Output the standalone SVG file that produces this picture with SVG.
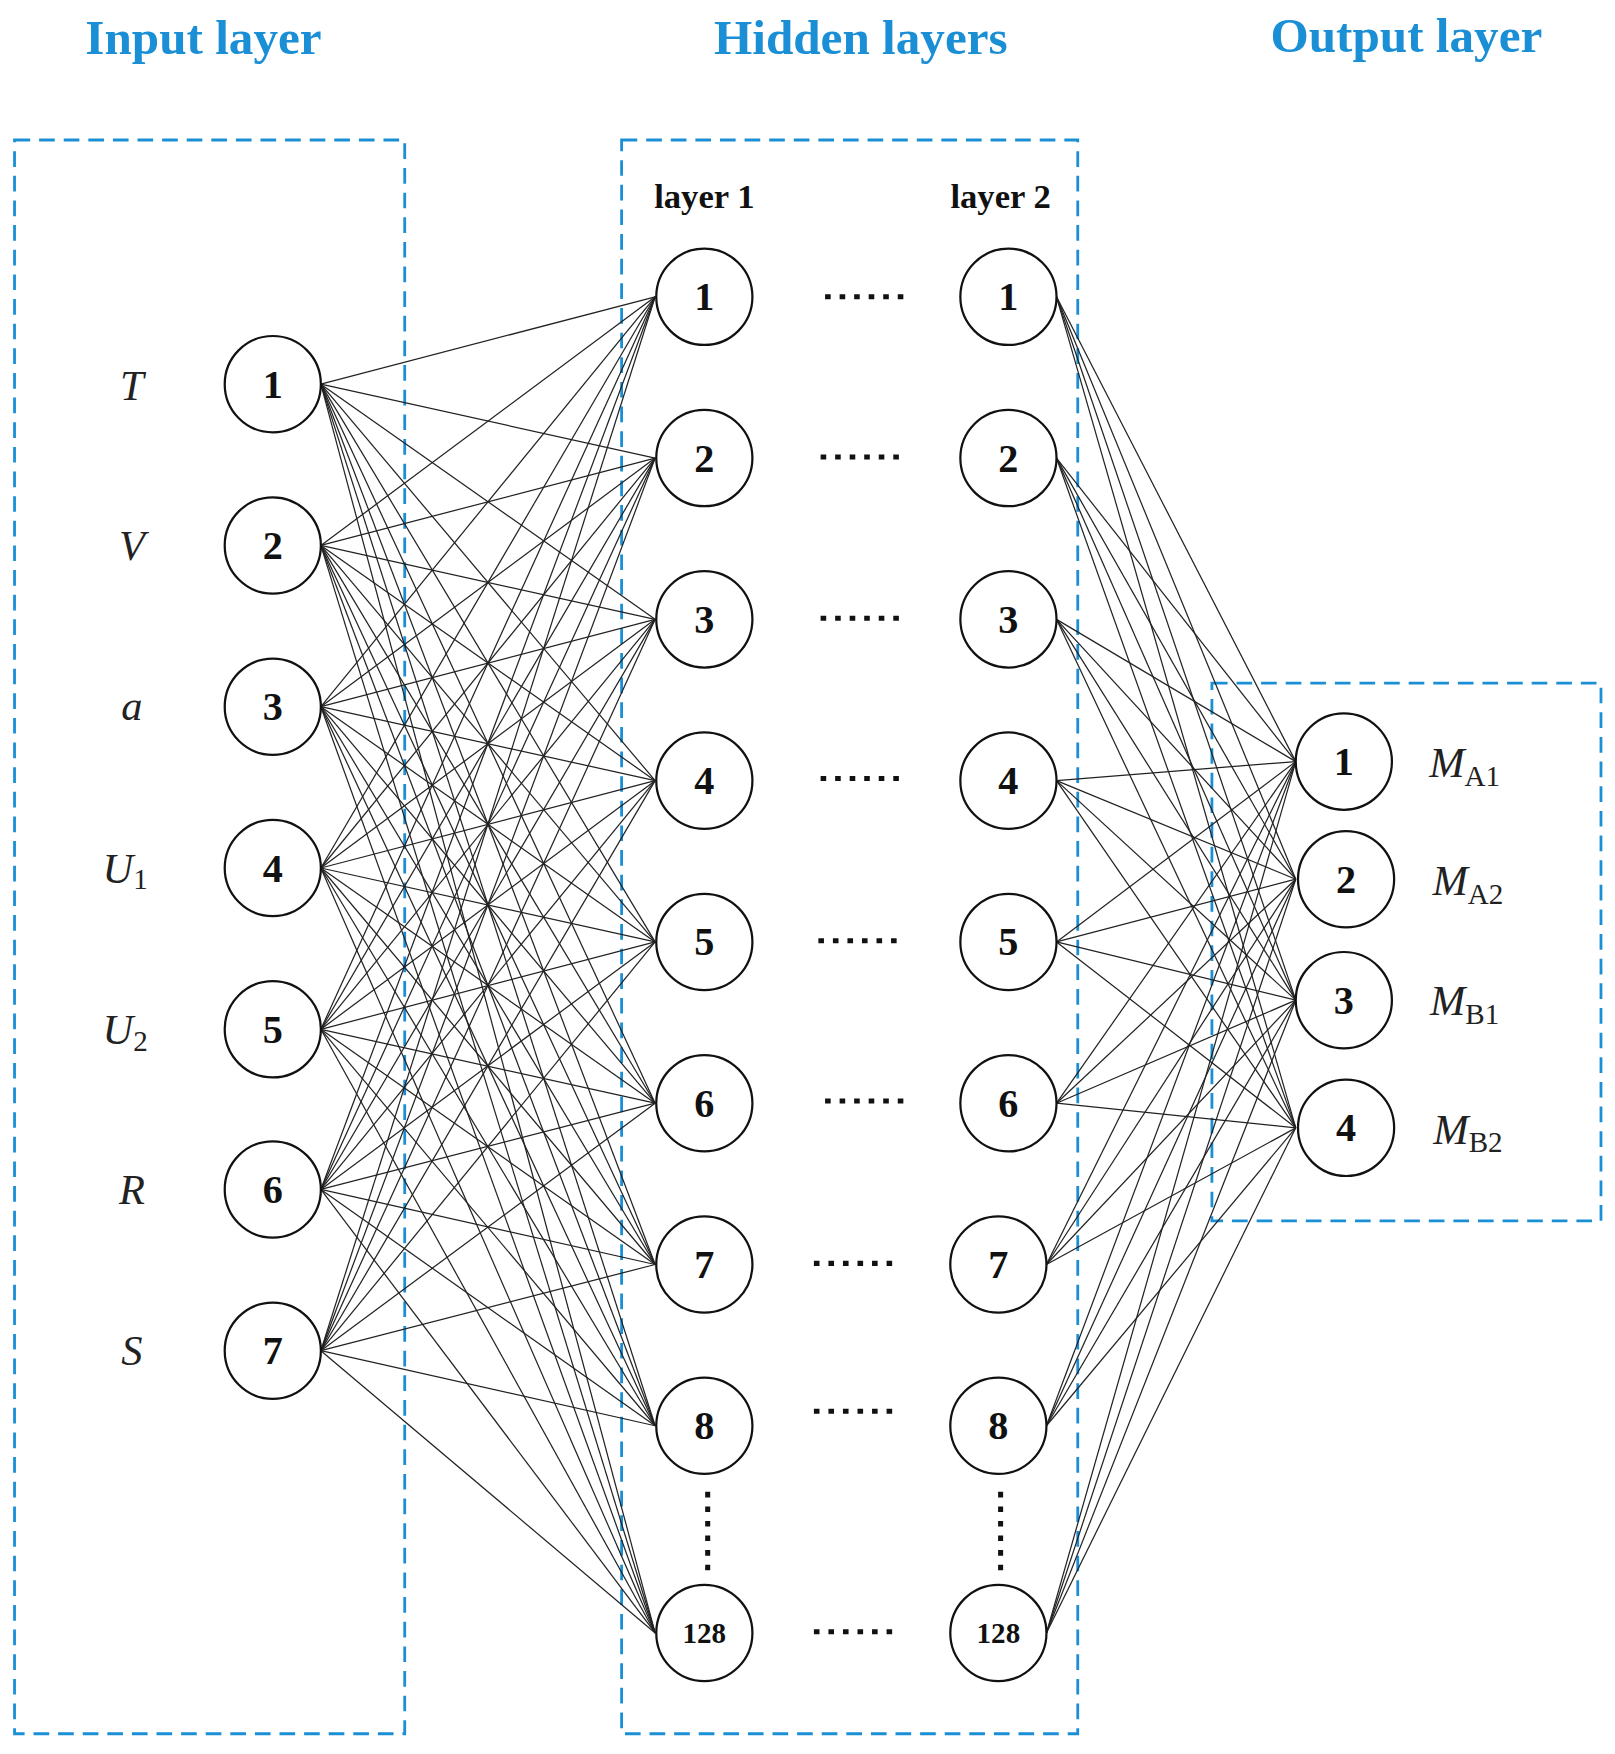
<svg xmlns="http://www.w3.org/2000/svg" width="1615" height="1754" viewBox="0 0 1615 1754">
<style>
.t{font-family:"Liberation Serif",serif;font-weight:bold;font-size:44px;fill:#1a8fd6;text-anchor:middle}
.box{fill:none;stroke:#1a8fd6;stroke-width:2.5;stroke-dasharray:14 8}
.n circle{fill:#fff;stroke:#111;stroke-width:2}
.n text{font-family:"Liberation Serif",serif;font-weight:bold;font-size:36px;fill:#111;text-anchor:middle;dominant-baseline:central}
.lab{font-family:"Liberation Serif",serif;font-style:italic;font-size:38px;fill:#222;text-anchor:middle}
.sub{font-style:normal;font-size:26px}
.hl{font-family:"Liberation Serif",serif;font-weight:bold;font-size:31px;fill:#111;text-anchor:middle}
.dots{stroke:#111;stroke-width:4.5;stroke-dasharray:5 8}
#conn line{stroke:#222;stroke-width:1.1}
</style>
<rect width="1615" height="1754" fill="#fff"/>
<g transform="scale(1.118,1.12)">
<text class="t" x="182" y="48">Input layer</text>
<text class="t" x="770" y="48">Hidden layers</text>
<text class="t" x="1258" y="46">Output layer</text>
<rect class="box" x="13" y="125" width="349" height="1423"/>
<rect class="box" x="556" y="125" width="408" height="1423"/>
<rect class="box" x="1084" y="610" width="348" height="480"/>
<text class="hl" x="630" y="186">layer 1</text>
<text class="hl" x="895" y="186">layer 2</text>
<g id="conn">
<line x1="287" y1="343" x2="586" y2="265"/><line x1="287" y1="343" x2="586" y2="409"/><line x1="287" y1="343" x2="586" y2="553"/><line x1="287" y1="343" x2="586" y2="697"/><line x1="287" y1="343" x2="586" y2="841"/><line x1="287" y1="343" x2="586" y2="985"/><line x1="287" y1="343" x2="586" y2="1129"/><line x1="287" y1="343" x2="586" y2="1273"/><line x1="287" y1="343" x2="586" y2="1458"/>
<line x1="287" y1="487" x2="586" y2="265"/><line x1="287" y1="487" x2="586" y2="409"/><line x1="287" y1="487" x2="586" y2="553"/><line x1="287" y1="487" x2="586" y2="697"/><line x1="287" y1="487" x2="586" y2="841"/><line x1="287" y1="487" x2="586" y2="985"/><line x1="287" y1="487" x2="586" y2="1129"/><line x1="287" y1="487" x2="586" y2="1273"/><line x1="287" y1="487" x2="586" y2="1458"/>
<line x1="287" y1="631" x2="586" y2="265"/><line x1="287" y1="631" x2="586" y2="409"/><line x1="287" y1="631" x2="586" y2="553"/><line x1="287" y1="631" x2="586" y2="697"/><line x1="287" y1="631" x2="586" y2="841"/><line x1="287" y1="631" x2="586" y2="985"/><line x1="287" y1="631" x2="586" y2="1129"/><line x1="287" y1="631" x2="586" y2="1273"/><line x1="287" y1="631" x2="586" y2="1458"/>
<line x1="287" y1="775" x2="586" y2="265"/><line x1="287" y1="775" x2="586" y2="409"/><line x1="287" y1="775" x2="586" y2="553"/><line x1="287" y1="775" x2="586" y2="697"/><line x1="287" y1="775" x2="586" y2="841"/><line x1="287" y1="775" x2="586" y2="985"/><line x1="287" y1="775" x2="586" y2="1129"/><line x1="287" y1="775" x2="586" y2="1273"/><line x1="287" y1="775" x2="586" y2="1458"/>
<line x1="287" y1="919" x2="586" y2="265"/><line x1="287" y1="919" x2="586" y2="409"/><line x1="287" y1="919" x2="586" y2="553"/><line x1="287" y1="919" x2="586" y2="697"/><line x1="287" y1="919" x2="586" y2="841"/><line x1="287" y1="919" x2="586" y2="985"/><line x1="287" y1="919" x2="586" y2="1129"/><line x1="287" y1="919" x2="586" y2="1273"/><line x1="287" y1="919" x2="586" y2="1458"/>
<line x1="287" y1="1062" x2="586" y2="265"/><line x1="287" y1="1062" x2="586" y2="409"/><line x1="287" y1="1062" x2="586" y2="553"/><line x1="287" y1="1062" x2="586" y2="697"/><line x1="287" y1="1062" x2="586" y2="841"/><line x1="287" y1="1062" x2="586" y2="985"/><line x1="287" y1="1062" x2="586" y2="1129"/><line x1="287" y1="1062" x2="586" y2="1273"/><line x1="287" y1="1062" x2="586" y2="1458"/>
<line x1="287" y1="1206" x2="586" y2="265"/><line x1="287" y1="1206" x2="586" y2="409"/><line x1="287" y1="1206" x2="586" y2="553"/><line x1="287" y1="1206" x2="586" y2="697"/><line x1="287" y1="1206" x2="586" y2="841"/><line x1="287" y1="1206" x2="586" y2="985"/><line x1="287" y1="1206" x2="586" y2="1129"/><line x1="287" y1="1206" x2="586" y2="1273"/><line x1="287" y1="1206" x2="586" y2="1458"/>
<line x1="945" y1="265" x2="1159" y2="680"/><line x1="945" y1="265" x2="1159" y2="785"/><line x1="945" y1="265" x2="1159" y2="893"/><line x1="945" y1="265" x2="1159" y2="1007"/>
<line x1="945" y1="409" x2="1159" y2="680"/><line x1="945" y1="409" x2="1159" y2="785"/><line x1="945" y1="409" x2="1159" y2="893"/><line x1="945" y1="409" x2="1159" y2="1007"/>
<line x1="945" y1="553" x2="1159" y2="680"/><line x1="945" y1="553" x2="1159" y2="785"/><line x1="945" y1="553" x2="1159" y2="893"/><line x1="945" y1="553" x2="1159" y2="1007"/>
<line x1="945" y1="697" x2="1159" y2="680"/><line x1="945" y1="697" x2="1159" y2="785"/><line x1="945" y1="697" x2="1159" y2="893"/><line x1="945" y1="697" x2="1159" y2="1007"/>
<line x1="945" y1="841" x2="1159" y2="680"/><line x1="945" y1="841" x2="1159" y2="785"/><line x1="945" y1="841" x2="1159" y2="893"/><line x1="945" y1="841" x2="1159" y2="1007"/>
<line x1="945" y1="985" x2="1159" y2="680"/><line x1="945" y1="985" x2="1159" y2="785"/><line x1="945" y1="985" x2="1159" y2="893"/><line x1="945" y1="985" x2="1159" y2="1007"/>
<line x1="936" y1="1129" x2="1159" y2="680"/><line x1="936" y1="1129" x2="1159" y2="785"/><line x1="936" y1="1129" x2="1159" y2="893"/><line x1="936" y1="1129" x2="1159" y2="1007"/>
<line x1="936" y1="1273" x2="1159" y2="680"/><line x1="936" y1="1273" x2="1159" y2="785"/><line x1="936" y1="1273" x2="1159" y2="893"/><line x1="936" y1="1273" x2="1159" y2="1007"/>
<line x1="936" y1="1458" x2="1159" y2="680"/><line x1="936" y1="1458" x2="1159" y2="785"/><line x1="936" y1="1458" x2="1159" y2="893"/><line x1="936" y1="1458" x2="1159" y2="1007"/>
</g>
<g>
<line class="dots" x1="738" y1="265" x2="816" y2="265"/>
<line class="dots" x1="734" y1="408" x2="810" y2="408"/>
<line class="dots" x1="734" y1="552" x2="810" y2="552"/>
<line class="dots" x1="734" y1="695" x2="810" y2="695"/>
<line class="dots" x1="732" y1="840" x2="808" y2="840"/>
<line class="dots" x1="738" y1="983" x2="814" y2="983"/>
<line class="dots" x1="728" y1="1128" x2="804" y2="1128"/>
<line class="dots" x1="728" y1="1260" x2="804" y2="1260"/>
<line class="dots" x1="728" y1="1457" x2="804" y2="1457"/>
<line class="dots" x1="633" y1="1332" x2="633" y2="1408"/>
<line class="dots" x1="895" y1="1332" x2="895" y2="1408"/>
</g>
<text class="lab" x="118" y="357">T</text>
<text class="lab" x="118" y="500">V</text>
<text class="lab" x="118" y="643">a</text>
<text class="lab" x="112" y="788">U<tspan class="sub" dy="6">1</tspan></text>
<text class="lab" x="112" y="932">U<tspan class="sub" dy="6">2</tspan></text>
<text class="lab" x="118" y="1075">R</text>
<text class="lab" x="118" y="1219">S</text>
<g id="in1" class="n"><circle cx="244" cy="343" r="43"/><text x="244" y="343">1</text></g>
<g id="in2" class="n"><circle cx="244" cy="487" r="43"/><text x="244" y="487">2</text></g>
<g id="in3" class="n"><circle cx="244" cy="631" r="43"/><text x="244" y="631">3</text></g>
<g id="in4" class="n"><circle cx="244" cy="775" r="43"/><text x="244" y="775">4</text></g>
<g id="in5" class="n"><circle cx="244" cy="919" r="43"/><text x="244" y="919">5</text></g>
<g id="in6" class="n"><circle cx="244" cy="1062" r="43"/><text x="244" y="1062">6</text></g>
<g id="in7" class="n"><circle cx="244" cy="1206" r="43"/><text x="244" y="1206">7</text></g>
<g id="h1_1" class="n"><circle cx="630" cy="265" r="43"/><text x="630" y="265">1</text></g>
<g id="h1_2" class="n"><circle cx="630" cy="409" r="43"/><text x="630" y="409">2</text></g>
<g id="h1_3" class="n"><circle cx="630" cy="553" r="43"/><text x="630" y="553">3</text></g>
<g id="h1_4" class="n"><circle cx="630" cy="697" r="43"/><text x="630" y="697">4</text></g>
<g id="h1_5" class="n"><circle cx="630" cy="841" r="43"/><text x="630" y="841">5</text></g>
<g id="h1_6" class="n"><circle cx="630" cy="985" r="43"/><text x="630" y="985">6</text></g>
<g id="h1_7" class="n"><circle cx="630" cy="1129" r="43"/><text x="630" y="1129">7</text></g>
<g id="h1_8" class="n"><circle cx="630" cy="1273" r="43"/><text x="630" y="1273">8</text></g>
<g id="h1_128" class="n"><circle cx="630" cy="1458" r="43"/><text x="630" y="1458" style="font-size:26px">128</text></g>
<g id="h2_1" class="n"><circle cx="902" cy="265" r="43"/><text x="902" y="265">1</text></g>
<g id="h2_2" class="n"><circle cx="902" cy="409" r="43"/><text x="902" y="409">2</text></g>
<g id="h2_3" class="n"><circle cx="902" cy="553" r="43"/><text x="902" y="553">3</text></g>
<g id="h2_4" class="n"><circle cx="902" cy="697" r="43"/><text x="902" y="697">4</text></g>
<g id="h2_5" class="n"><circle cx="902" cy="841" r="43"/><text x="902" y="841">5</text></g>
<g id="h2_6" class="n"><circle cx="902" cy="985" r="43"/><text x="902" y="985">6</text></g>
<g id="h2_7" class="n"><circle cx="893" cy="1129" r="43"/><text x="893" y="1129">7</text></g>
<g id="h2_8" class="n"><circle cx="893" cy="1273" r="43"/><text x="893" y="1273">8</text></g>
<g id="h2_128" class="n"><circle cx="893" cy="1458" r="43"/><text x="893" y="1458" style="font-size:26px">128</text></g>
<g id="o1" class="n"><circle cx="1202" cy="680" r="43"/><text x="1202" y="680">1</text></g>
<g id="o2" class="n"><circle cx="1204" cy="785" r="43"/><text x="1204" y="785">2</text></g>
<g id="o3" class="n"><circle cx="1202" cy="893" r="43"/><text x="1202" y="893">3</text></g>
<g id="o4" class="n"><circle cx="1204" cy="1007" r="43"/><text x="1204" y="1007">4</text></g>
<text class="lab" x="1310" y="694">M<tspan class="sub" dy="8">A1</tspan></text>
<text class="lab" x="1313" y="799">M<tspan class="sub" dy="8">A2</tspan></text>
<text class="lab" x="1310" y="906">M<tspan class="sub" dy="8">B1</tspan></text>
<text class="lab" x="1313" y="1021">M<tspan class="sub" dy="8">B2</tspan></text>
</g>
</svg>
